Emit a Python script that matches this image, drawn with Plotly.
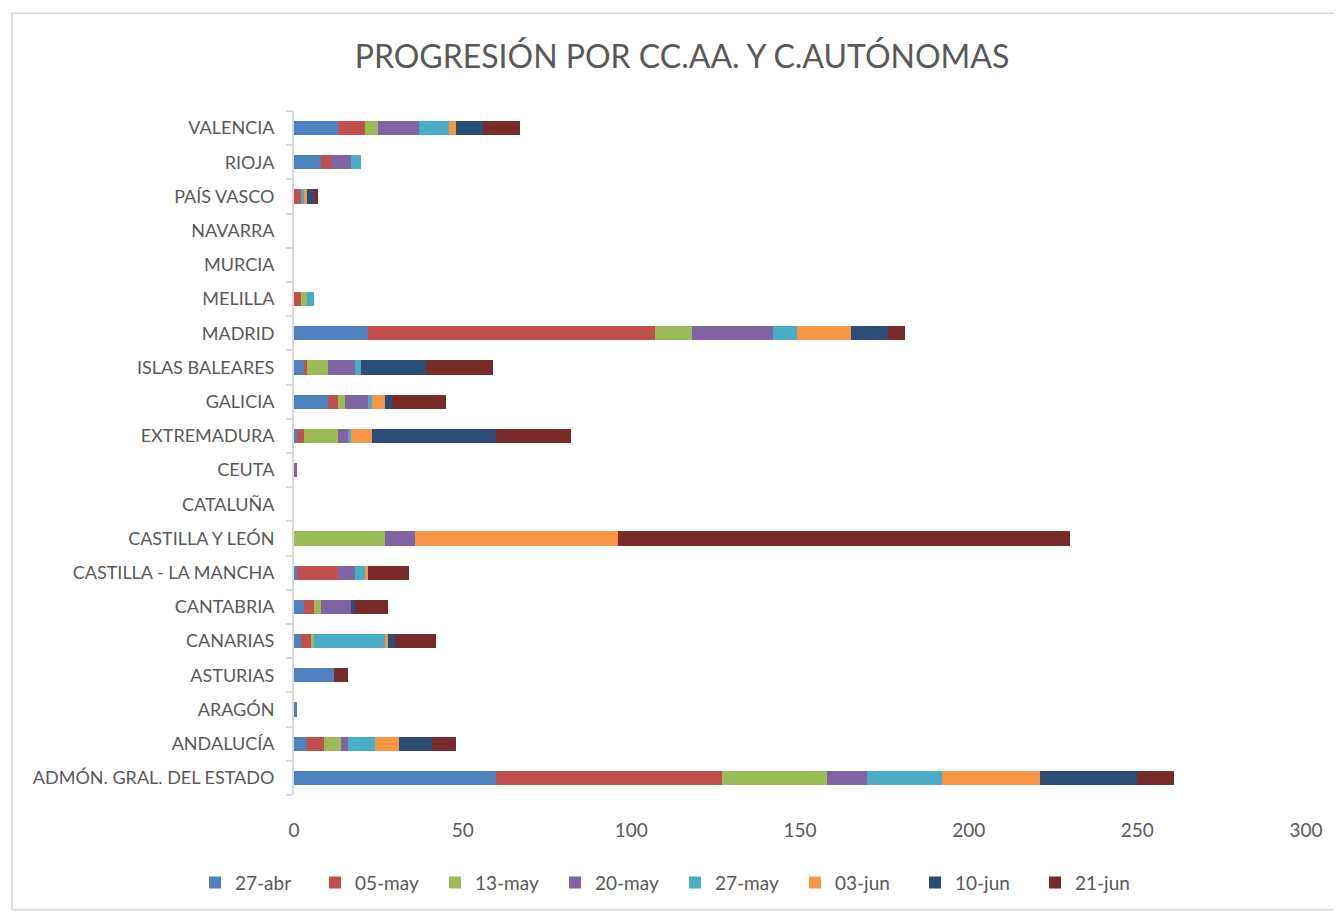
import plotly.graph_objects as go

categories = ["ADMÓN. GRAL. DEL ESTADO", "ANDALUCÍA", "ARAGÓN", "ASTURIAS", "CANARIAS",
              "CANTABRIA", "CASTILLA - LA MANCHA", "CASTILLA Y LEÓN", "CATALUÑA", "CEUTA",
              "EXTREMADURA", "GALICIA", "ISLAS BALEARES", "MADRID", "MELILLA", "MURCIA",
              "NAVARRA", "PAÍS VASCO", "RIOJA", "VALENCIA"]

series_names = ["27-abr", "05-may", "13-may", "20-may", "27-may", "03-jun", "10-jun", "21-jun"]
colors = ["#4F81BD", "#C0504D", "#9BBB59", "#8064A2", "#4BACC6", "#F79646", "#2C4D75", "#772C2A"]

s_27abr = [60, 4, 1, 12, 2, 3, 1, 0, 0, 0, 1, 10, 3, 22, 0, 0, 0, 0, 8, 13]
s_05may = [67, 5, 0, 0, 3, 3, 12, 0, 0, 0, 2, 3, 1, 85, 2, 0, 0, 2, 3, 8]
s_13may = [31, 5, 0, 0, 1, 2, 0, 27, 0, 0, 10, 2, 6, 11, 2, 0, 0, 0, 0, 4]
s_20may = [12, 2, 0, 0, 0, 9, 5, 9, 0, 1, 3, 7, 8, 24, 0, 0, 0, 0, 6, 12]
s_27may = [22, 8, 0, 0, 21, 0, 3, 0, 0, 0, 1, 1, 2, 7, 2, 0, 0, 1, 3, 9]
s_03jun = [29, 7, 0, 0, 1, 0, 1, 60, 0, 0, 6, 4, 0, 16, 0, 0, 0, 1, 0, 2]
s_10jun = [29, 10, 0, 0, 2, 1, 0, 0, 0, 0, 37, 2, 19, 11, 0, 0, 0, 2, 0, 8]
s_21jun = [11, 7, 0, 4, 12, 10, 12, 134, 0, 0, 22, 16, 20, 5, 0, 0, 0, 1, 0, 11]

series_values = [s_27abr, s_05may, s_13may, s_20may, s_27may, s_03jun, s_10jun, s_21jun]

x_ticks = [0, 50, 100, 150, 200, 250, 300]

FONT = "Lato"
GREY = "#595959"

W, H = 1334, 906
fig = go.Figure()
for name, vals, col in zip(series_names, series_values, colors):
    fig.add_trace(go.Bar(
        y=categories, x=vals, name=name, orientation="h",
        marker=dict(color=col, line=dict(width=0)),
    ))

fig.update_layout(
    barmode="stack",
    bargap=0.59,
    width=W, height=H,
    paper_bgcolor="white", plot_bgcolor="white",
    margin=dict(l=286, r=36, t=103, b=117),
    title=dict(text="PROGRESIÓN POR CC.AA. Y C.AUTÓNOMAS", x=(682 - 8) / W, xanchor="center",
               y=1 - (57 - 8) / H, yanchor="middle", xref="container", yref="container",
               font=dict(family=FONT, size=32, color=GREY)),
    font=dict(family=FONT, color=GREY),
    legend=dict(orientation="h", x=(675 - 294) / 1012, xanchor="center", y=-88 / 686, yanchor="middle",
                font=dict(size=19, color=GREY), traceorder="normal",
                itemwidth=30, entrywidth=75, entrywidthmode="pixels"),
    showlegend=True,
)
fig.update_xaxes(range=[0, 300], tickvals=x_ticks, showgrid=False, zeroline=False,
                 showline=False, ticks="", tickfont=dict(size=19, color=GREY), ticklabelstandoff=22)
fig.update_yaxes(type="category", categoryorder="array", categoryarray=categories,
                 showgrid=False, showline=True, linecolor="#D9D9D9", linewidth=2,
                 ticks="outside", tickson="boundaries", ticklen=6, tickcolor="#D9D9D9",
                 tickwidth=2, tickfont=dict(size=18, color=GREY), ticklabelstandoff=14)

fig.add_shape(type="rect", xref="paper", yref="paper",
              x0=-282 / 1012, x1=1.2, y0=-115 / 686, y1=1 + 98 / 686,
              line=dict(color="#D9D9D9", width=1.5), fillcolor="rgba(0,0,0,0)", layer="below")

fig.write_html("out.html")
